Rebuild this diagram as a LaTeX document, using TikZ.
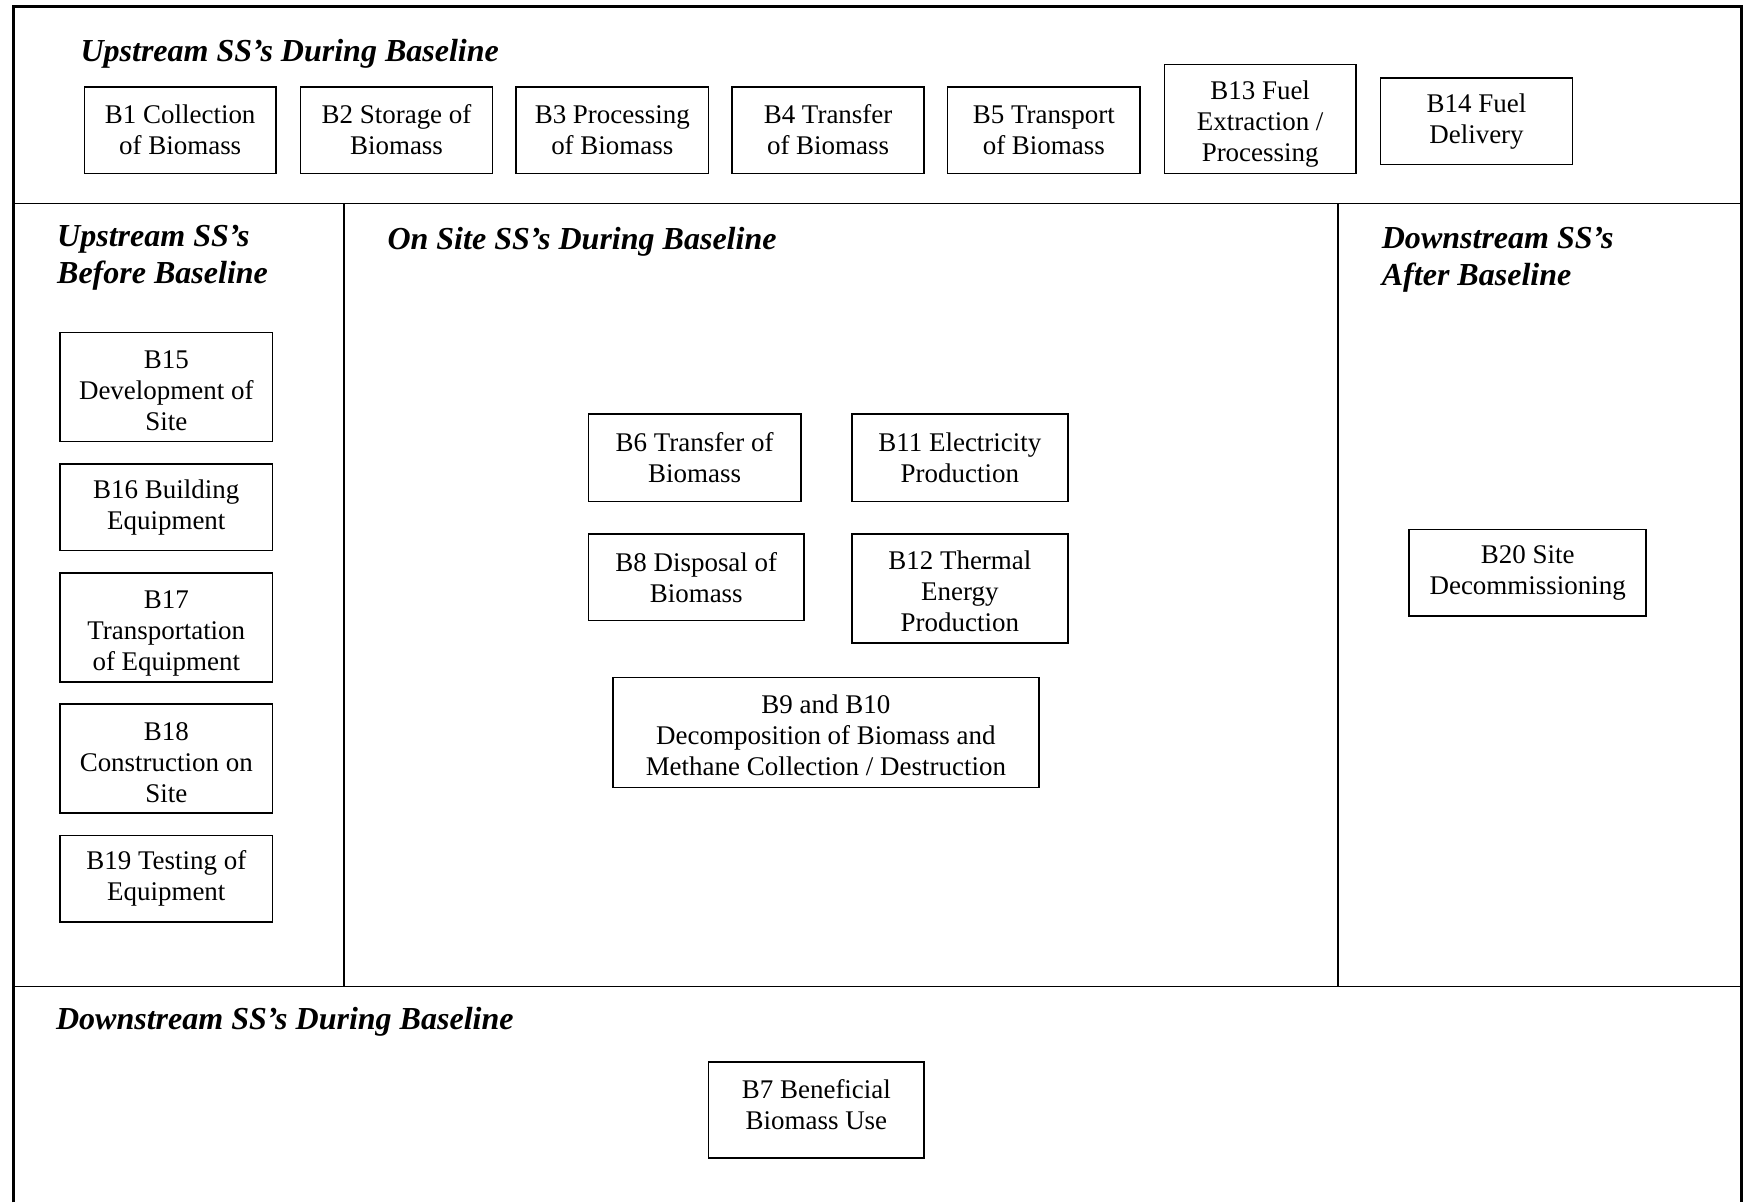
\documentclass[tikz,border=0pt]{standalone}
\usepackage{fontspec}
\setmainfont{Liberation Serif}
\usetikzlibrary{positioning}

\begin{document}
\begin{tikzpicture}[x=0.495pt,y=-0.495pt,
    ssbox/.style={draw,line width=0.7pt,align=center,inner sep=1pt,font=\fontsize{12}{13.8}\selectfont},
    heading/.style={anchor=west,align=left,inner sep=0pt,font=\fontsize{14.25}{16.4}\selectfont\bfseries\itshape}]
    \useasboundingbox (0,0) rectangle (1568,1081);

    % outer frame, open at the bottom
    \draw[line width=1.3pt] (12,1081) -- (12,6) -- (1565.5,6) -- (1565.5,1081);

    % rows
    \draw[line width=0.8pt] (12,183) -- (1565.5,183);
    \draw[line width=0.8pt] (12,887) -- (1565.5,887);

    % columns of the middle row
    \draw[line width=0.8pt] (309,183) -- (309,887);
    \draw[line width=0.8pt] (1203,183) -- (1203,887);

    % headings
    \node[heading] (hup) at (72,48) {Upstream SS’s During Baseline};
    \node[heading] (hbefore) at (51,231.5) {Upstream SS’s\\Before Baseline};
    \node[heading] (hsite) at (348,217) {On Site SS’s During Baseline};
    \node[heading] (hafter) at (1242,233.5) {Downstream SS’s\\After Baseline};
    \node[heading] (hdown) at (50,919) {Downstream SS’s During Baseline};

    % upstream during baseline, top row
    \node[ssbox,minimum width=85.1pt,minimum height=38.6pt] (b1) at (162,117) {B1 Collection\\of Biomass};
    \node[ssbox,minimum width=85.6pt,minimum height=38.6pt] (b2) at (356.5,117) {B2 Storage of\\Biomass};
    \node[ssbox,minimum width=85.6pt,minimum height=38.6pt] (b3) at (550.5,117) {B3 Processing\\of Biomass};
    \node[ssbox,minimum width=85.6pt,minimum height=38.6pt] (b4) at (744.5,117) {B4 Transfer\\of Biomass};
    \node[ssbox,minimum width=85.6pt,minimum height=38.6pt] (b5) at (938.5,117) {B5 Transport\\of Biomass};
    \node[ssbox,minimum width=85.1pt,minimum height=48.5pt] (b13) at (1133,107) {\rule{0pt}{13pt}B13 Fuel\\Extraction /\\Processing};
    \node[ssbox,minimum width=85.6pt,minimum height=38.6pt] (b14) at (1327.5,109) {B14 Fuel\\Delivery};

    % upstream before baseline, left column
    \node[ssbox,minimum width=94.5pt,minimum height=48.5pt] (b15) at (149.5,348) {\rule{0pt}{11.2pt}B15\\Development of\\Site};
    \node[ssbox,minimum width=94.5pt,minimum height=38.6pt] (b16) at (149.5,456) {B16 Building\\Equipment};
    \node[ssbox,minimum width=94.5pt,minimum height=48.5pt] (b17) at (149.5,564) {\rule{0pt}{13pt}B17\\Transportation\\of Equipment};
    \node[ssbox,minimum width=94.5pt,minimum height=48.5pt] (b18) at (149.5,682) {\rule{0pt}{11.2pt}B18\\Construction on\\Site};
    \node[ssbox,minimum width=94.5pt,minimum height=38.6pt] (b19) at (149.5,790) {B19 Testing of\\Equipment};

    % on site during baseline
    \node[ssbox,minimum width=94.5pt,minimum height=39.1pt] (b6) at (624.5,411.5) {B6 Transfer of\\Biomass};
    \node[ssbox,minimum width=96pt,minimum height=39.1pt] (b11) at (863,411.5) {B11 Electricity\\Production};
    \node[ssbox,minimum width=96pt,minimum height=38.6pt] (b8) at (626,519) {B8 Disposal of\\Biomass};
    \node[ssbox,minimum width=96pt,minimum height=48.5pt] (b12) at (863,529) {\rule{0pt}{11.2pt}B12 Thermal\\Energy\\Production};
    \node[ssbox,minimum width=189.6pt,minimum height=49pt] (b9) at (742.5,658.5) {\rule{0pt}{11.2pt}B9 and B10\\Decomposition of Biomass and\\Methane Collection / Destruction};

    % downstream after baseline
    \node[ssbox,minimum width=105.4pt,minimum height=38.6pt] (b20) at (1373.5,515) {B20 Site\\Decommissioning};

    % downstream during baseline
    \node[ssbox,minimum width=96pt,minimum height=42.6pt] (b7) at (734,998) {B7 Beneficial\\Biomass Use\rule[-5pt]{0pt}{5pt}};
\end{tikzpicture}
\end{document}
